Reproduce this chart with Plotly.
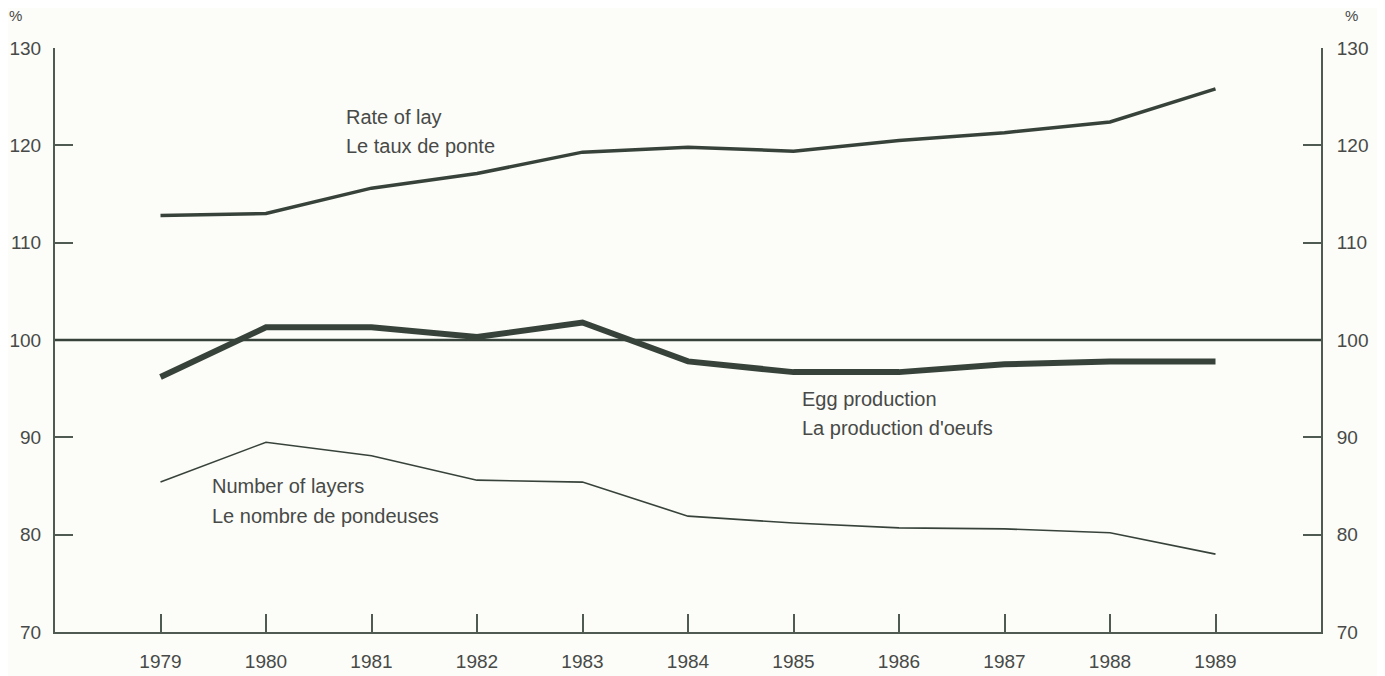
import plotly.graph_objects as go

years = [1979, 1980, 1981, 1982, 1983, 1984, 1985, 1986, 1987, 1988, 1989]
rate_of_lay = [112.8, 113.0, 115.6, 117.1, 119.3, 119.8, 119.4, 120.5, 121.3, 122.4, 125.8]
egg_production = [96.2, 101.3, 101.3, 100.3, 101.8, 97.8, 96.7, 96.7, 97.5, 97.8, 97.8]
number_of_layers = [85.4, 89.5, 88.1, 85.6, 85.4, 81.9, 81.2, 80.7, 80.6, 80.2, 78.0]
y_ticks = [70, 80, 90, 100, 110, 120, 130]
reference_level = 100

line_col = "#37433a"
axis_col = "#4f5b52"
text_col = "#474a47"
font_fam = "Liberation Sans, Arial, sans-serif"

fig = go.Figure()

fig.add_shape(type="line", xref="paper", x0=0, x1=1, yref="y", y0=reference_level, y1=reference_level,
              line=dict(color=line_col, width=2.5), layer="above")

fig.add_trace(go.Scatter(x=years, y=rate_of_lay, mode="lines",
                         line=dict(color=line_col, width=3.5), showlegend=False))
fig.add_trace(go.Scatter(x=years, y=egg_production, mode="lines",
                         line=dict(color=line_col, width=6), showlegend=False))
fig.add_trace(go.Scatter(x=years, y=number_of_layers, mode="lines",
                         line=dict(color=line_col, width=1.6), showlegend=False))
# invisible trace to activate right axis
fig.add_trace(go.Scatter(x=[years[0]], y=[reference_level], yaxis="y2", mode="markers",
                         marker=dict(opacity=0), showlegend=False, hoverinfo="skip"))

annots = [
    ("Rate of lay", 1980.735, 122.9),
    ("Le taux de ponte", 1980.735, 119.95),
    ("Egg production", 1985.06, 93.95),
    ("La production d'oeufs", 1985.06, 90.95),
    ("Number of layers", 1979.47, 85.0),
    ("Le nombre de pondeuses", 1979.47, 81.95),
]
for txt, x, y in annots:
    fig.add_annotation(x=x, y=y, xref="x", yref="y", text=txt, showarrow=False,
                       xanchor="left", yanchor="middle",
                       font=dict(family=font_fam, size=20, color=text_col))

fig.add_annotation(x=-0.031, y=1.056, xref="paper", yref="paper", text="%", showarrow=False,
                   xanchor="center", yanchor="middle", font=dict(family=font_fam, size=15, color=text_col))
fig.add_annotation(x=1.024, y=1.056, xref="paper", yref="paper", text="%", showarrow=False,
                   xanchor="center", yanchor="middle", font=dict(family=font_fam, size=15, color=text_col))

axis_common = dict(showgrid=False, zeroline=False, showline=True, linecolor=axis_col, linewidth=2,
                   ticks="inside", ticklen=18, tickwidth=2, tickcolor=axis_col, automargin=False,
                   tickfont=dict(family=font_fam, size=19, color=text_col))

fig.update_layout(
    width=1377, height=668,
    margin=dict(l=47, r=64, t=40, b=44),
    paper_bgcolor="#fcfcf9", plot_bgcolor="#fcfcf9",
    xaxis=dict(range=[1978, 1990], tickvals=years, ticktext=[str(y) for y in years],
               ticklabelstandoff=11, **axis_common),
    yaxis=dict(range=[70, 130], tickvals=y_ticks, ticklabelstandoff=8, **axis_common),
    yaxis2=dict(range=[70, 130], tickvals=y_ticks, overlaying="y", side="right",
                ticklabelstandoff=10, **axis_common),
)

fig.write_html("out.html")
